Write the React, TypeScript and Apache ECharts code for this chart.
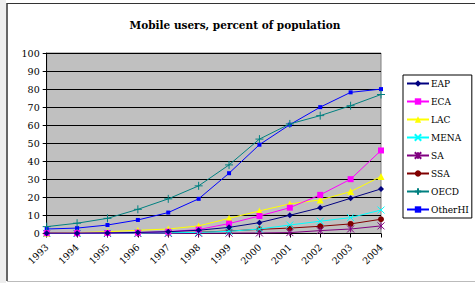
import React, { useEffect, useRef } from "react";
import * as echarts from "echarts";

const years = ["1993", "1994", "1995", "1996", "1997", "1998", "1999", "2000", "2001", "2002", "2003", "2004"];
const seriesNames = ["EAP", "ECA", "LAC", "MENA", "SA", "SSA", "OECD", "OtherHI"];
const EAP = [0.2, 0.2, 0.3, 0.6, 1.0, 1.8, 3.4, 6.0, 10.1, 14.3, 19.5, 24.7];
const ECA = [0.2, 0.2, 0.3, 0.5, 1.0, 2.2, 5.5, 9.7, 14.3, 21.4, 30.1, 46.0];
const LAC = [0.3, 0.5, 1.0, 1.8, 2.5, 4.2, 8.4, 12.5, 16.4, 18.6, 23.2, 31.6];
const MENA = [0.1, 0.1, 0.2, 0.3, 0.4, 0.6, 1.2, 2.5, 4.7, 6.8, 8.8, 13.0];
const SA = [0.0, 0.0, 0.0, 0.0, 0.05, 0.1, 0.2, 0.3, 0.5, 1.6, 2.5, 4.2];
const SSA = [0.2, 0.2, 0.3, 0.4, 0.5, 0.7, 1.4, 2.3, 3.0, 4.0, 5.3, 7.9];
const OECD = [3.8, 5.7, 8.4, 13.4, 19.2, 26.4, 38.0, 52.3, 60.7, 65.3, 70.8, 77.0];
const OtherHI = [2.5, 3.0, 4.7, 7.5, 11.6, 19.2, 33.4, 49.2, 60.3, 70.0, 78.2, 80.0];
const values = [EAP, ECA, LAC, MENA, SA, SSA, OECD, OtherHI];
const colors = ["#000080", "#FF00FF", "#FFFF00", "#00FFFF", "#800080", "#800000", "#008080", "#0000FF"];
const symbols = [
  "diamond",
  "rect",
  "triangle",
  "path://M0,0L10,10M10,0L0,10",
  "path://M0,0L10,10M10,0L0,10M5,0L5,10",
  "circle",
  "path://M5,0L5,10M0,5L10,5",
  "rect",
];
const symbolSizes = [6, 6, 7, 7, 7, 6, 8, 4];
const yTicks = [0, 10, 20, 30, 40, 50, 60, 70, 80, 90, 100];

export default function App() {
  const ref = useRef<HTMLDivElement>(null);
  useEffect(() => {
    if (!ref.current) return;
    const chart = echarts.init(ref.current, null, { renderer: "svg" });
    const font = "DejaVu Serif";
    chart.setOption({
      animation: false,
      backgroundColor: "#ffffff",
      title: {
        text: "Mobile users, percent of population",
        left: 230,
        top: 14,
        textAlign: "center",
        textStyle: { fontFamily: font, fontSize: 10.5, fontWeight: "bold", color: "#000" },
      },
      graphic: [
        { type: "rect", shape: { x: 0, y: 0, width: 6, height: 283 }, style: { fill: "#eeeeee" }, z: 0 },
        { type: "line", shape: { x1: 7, y1: 3, x2: 7, y2: 281 }, style: { stroke: "#333", lineWidth: 1.5 } },
        { type: "line", shape: { x1: 7, y1: 3.5, x2: 475, y2: 3.5 }, style: { stroke: "#333", lineWidth: 1 } },
        { type: "line", shape: { x1: 7, y1: 281.5, x2: 475, y2: 281.5 }, style: { stroke: "#bbb", lineWidth: 1 } },
      ],
      legend: {
        orient: "vertical",
        left: 403,
        top: 75,
        padding: [4, 3, 4, 3],
        itemWidth: 22,
        itemHeight: 8,
        itemGap: 9,
        borderColor: "#000",
        borderWidth: 1,
        textStyle: { fontFamily: font, fontSize: 9, color: "#000", padding: [0, 0, 0, -3] },
        data: seriesNames,
      },
      grid: {
        left: 46.7,
        top: 53,
        right: 94,
        bottom: 49.5,
        show: true,
        backgroundColor: "#c0c0c0",
        borderColor: "#808080",
        borderWidth: 1,
      },
      xAxis: {
        type: "category",
        data: years,
        boundaryGap: false,
        axisLine: { lineStyle: { color: "#000", width: 1 } },
        axisTick: { show: true, length: 4, lineStyle: { color: "#000" } },
        axisLabel: { rotate: 45, fontFamily: font, fontSize: 9.5, color: "#000", margin: 12 },
        splitLine: { show: false },
      },
      yAxis: {
        type: "value",
        min: yTicks[0],
        max: yTicks[yTicks.length - 1],
        interval: 10,
        axisLine: { show: true, lineStyle: { color: "#000" } },
        axisTick: { show: true, length: 4, lineStyle: { color: "#000" } },
        axisLabel: { fontFamily: font, fontSize: 9.5, color: "#000", margin: 7 },
        splitLine: { show: true, lineStyle: { color: "#000", width: 1 } },
      },
      series: seriesNames.map((name, i) => ({
        name,
        type: "line",
        data: values[i],
        symbol: symbols[i],
        symbolSize: symbolSizes[i],
        showAllSymbol: true,
        lineStyle: { color: colors[i], width: 1 },
        itemStyle: { color: colors[i], borderColor: colors[i], borderWidth: symbols[i].startsWith("path") ? 1 : 0 },
        z: 10 - i,
      })),
    });
    return () => chart.dispose();
  }, []);
  return <div ref={ref} style={{ position: "fixed", left: 0, top: 0, width: 475, height: 283 }} />;
}
